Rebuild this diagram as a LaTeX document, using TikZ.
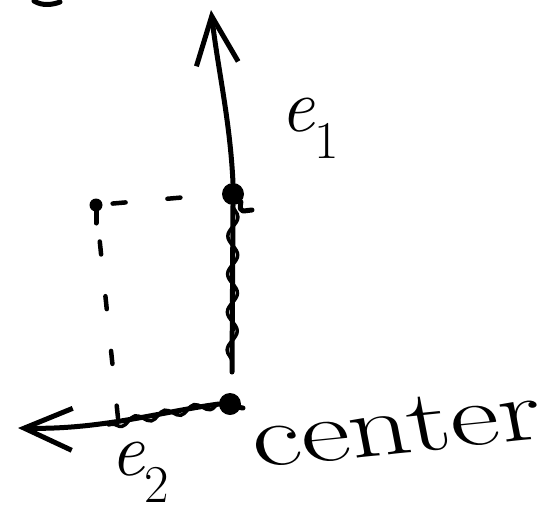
\documentclass[tikz,border=0pt]{standalone}
\usepackage{fontspec}
\usetikzlibrary{arrows.meta,decorations.pathmorphing}
\begin{document}
\begin{tikzpicture}[x=1pt,y=-1pt,
  ink/.style={line width=5pt,line cap=round,line join=round,black},
  bigdot/.style={circle,fill=black,inner sep=0pt,minimum size=22pt},
  smalldot/.style={circle,fill=black,inner sep=0pt,minimum size=13pt},
  dashline/.style={line width=4.5pt,line cap=round,dash pattern=on 13pt off 42pt},
  lbl/.style={inner sep=0pt,font=\fontsize{76}{82}\selectfont},
  tip/.style={-{Straight Barb[length=48pt,width=42pt,line width=5pt]}}]
\useasboundingbox (0,0) rectangle (554,517);
% named points
\node[bigdot] (c) at (230,404) {};
\node[bigdot] (p) at (233,194) {};
\node[smalldot] (q) at (96,205) {};
\coordinate (t1) at (211,10);
\coordinate (t2) at (18,428);
\coordinate (f) at (118,418);
\coordinate (s1) at (232,372);
\coordinate (tail) at (243,408);
% e1 arrow
\draw[ink,tip] (p.north) .. controls (230,120) and (218,70) .. (t1);
\draw[ink] (p.south) -- (s1);
\draw[line width=3.5pt,line cap=round,decorate,decoration={snake,amplitude=5pt,segment length=38pt}] (p.south) -- (s1);
\draw[ink] (p.south east) .. controls (238,215) and (245,210) .. (252,210);
% e2 arrow
\draw[ink,tip] (tail) -- (c.west) .. controls (160,412) and (100,430) .. (t2);
\draw[line width=3.5pt,line cap=round,decorate,decoration={snake,amplitude=4pt,segment length=30pt}] (c.west) -- (108,425);
% dashed projections
\draw[dashline,dash phase=-10pt] (q) -- (p.west);
\draw[dashline,dash phase=-30pt] (q) -- (f);
\draw[ink] (q) -- ++(0,18);
% scrap at top left
\draw[ink] (34,1) .. controls (42,6) and (52,5) .. (60,2);
% labels
\node[lbl] (e1) at (310,128) {\textit{e}\textsubscript{1}};
\node[lbl] (e2) at (140,472) {\textit{e}\textsubscript{2}};
\node[lbl,font=\fontsize{88}{96}\selectfont,xscale=1.38,rotate=8,anchor=base west] (ctr) at (256,468) {center};
\end{tikzpicture}
\end{document}
